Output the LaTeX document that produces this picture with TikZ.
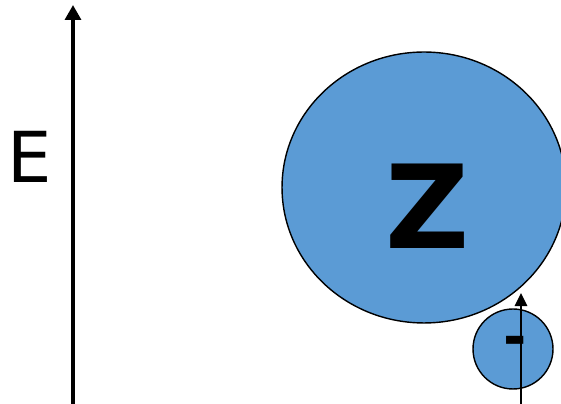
\documentclass[tikz,border=0pt]{standalone}
\usepackage{fontspec}
\setmainfont{DejaVu Sans}
\usepackage{xcolor}
\usetikzlibrary{arrows.meta,shapes.geometric}
\definecolor{partblue}{HTML}{5B9BD5}

\begin{document}
\begin{tikzpicture}[x=0.02cm, y=-0.02cm, blob/.style={draw,fill=partblue,line width=0.8pt,inner sep=0pt}]
\useasboundingbox (0,0) rectangle (561,404);

% Energy axis
\coordinate (ebot) at (73,404);
\coordinate (etop) at (73,5);
\draw[-{Triangle[width=9pt,length=8.5pt]},line width=2pt] (ebot) -- (etop);
\node (elabel) at (30,157) {\fontsize{40}{40}\selectfont E};

% Big particle
\node[blob,ellipse,minimum width=5.68cm,minimum height=5.42cm] (big) at (424,187.5) {};
\node (zlabel) at (428,206) {\fontsize{66}{66}\selectfont\bfseries Z};

% Small particle
\node[blob,circle,minimum size=1.6cm] (small) at (513,349) {};
\node[anchor=mid] (minus) at (515,352) {\fontsize{32}{32}\selectfont\bfseries -};

% Small arrow
\coordinate (sbot) at (521,404);
\coordinate (stop) at (521,293);
\draw[-{Triangle[width=7pt,length=7.5pt]},line width=1.3pt] (sbot) -- (stop);

\end{tikzpicture}
\end{document}
